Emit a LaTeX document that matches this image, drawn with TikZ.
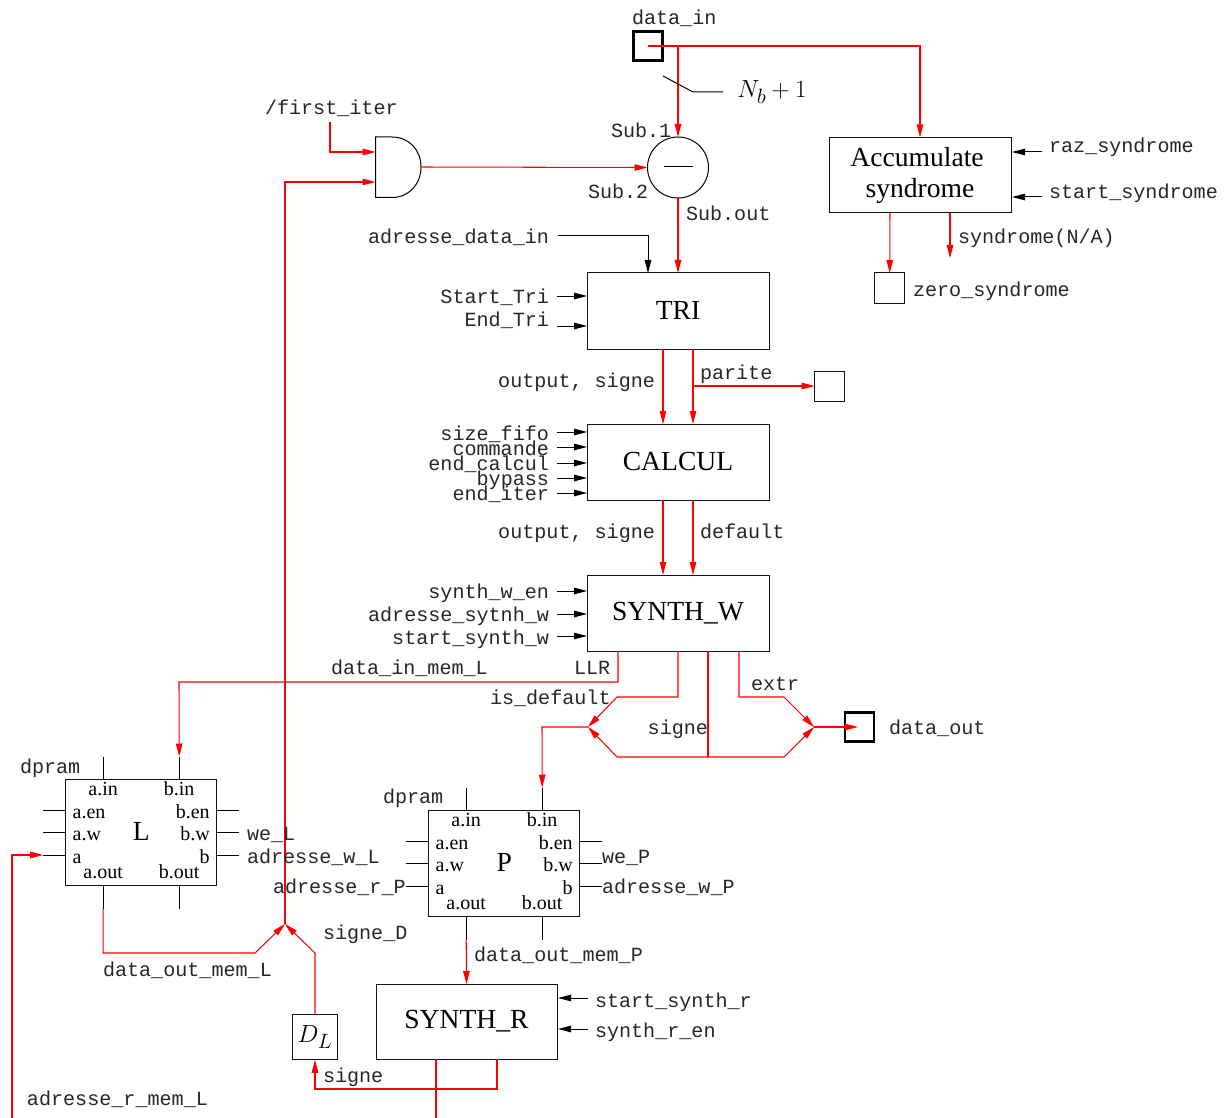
\documentclass[tikz,border=0pt]{standalone}
\usepackage{fontspec}
\setmainfont{Liberation Serif}
\setmonofont{Liberation Mono}
\usetikzlibrary{arrows.meta}
\definecolor{wirered}{RGB}{255,0,0}
\definecolor{boxblack}{RGB}{20,20,20}
\tikzset{
  box/.style={draw=boxblack,line width=1pt,inner sep=0pt,outer sep=0pt,font=\fontsize{27.6}{31}\selectfont},
  ioport/.style={draw=black,line width=2.4pt,minimum size=29pt,inner sep=0pt,outer sep=1pt},
  tinybox/.style={draw=boxblack,line width=1pt,minimum size=30pt,inner sep=0pt,outer sep=0pt},
  lab/.style={inner sep=0pt,outer sep=0pt,text height=13.5pt,text depth=0pt,font=\fontsize{20.1}{24}\ttfamily,text=black!85},
  serif/.style={inner sep=0pt,outer sep=0pt,text height=12pt,text depth=0pt,font=\fontsize{20}{24}\selectfont},
  wire/.style={draw=wirered,line width=1.05pt,line join=miter},
  bwire/.style={draw=black,line width=1pt},
  tip/.style={-{Triangle[length=13pt,width=6.5pt]}},
}
\newcommand{\dpramblock}[4]{%
  \begin{scope}[shift={(#2,#3)}]
    \node[box,minimum width=151pt,minimum height=106pt] (#1) at (0,0) {\raisebox{2pt}{#4}};
    \node[serif] (#1ain) at (-38,-43) {a.in};
    \node[serif] (#1bin) at (38,-43) {b.in};
    \node[serif,anchor=west] (#1aen) at (-68.5,-20.5) {a.en};
    \node[serif,anchor=east] (#1ben) at (68.5,-20.5) {b.en};
    \node[serif,anchor=west] (#1aw) at (-68.5,2) {a.w};
    \node[serif,anchor=east] (#1bw) at (68.5,2) {b.w};
    \node[serif,anchor=west] (#1a) at (-68.5,25) {a};
    \node[serif,anchor=east] (#1b) at (68.5,25) {b};
    \node[serif] (#1aout) at (-38,40) {a.out};
    \node[serif] (#1bout) at (38,40) {b.out};
    \coordinate (#1TA) at ([xshift=-38pt]#1.north);
    \coordinate (#1TB) at ([xshift=38pt]#1.north);
    \coordinate (#1BA) at ([xshift=-38pt]#1.south);
    \coordinate (#1BB) at ([xshift=38pt]#1.south);
    \coordinate (#1L1) at ([yshift=22.5pt]#1.west);
    \coordinate (#1L2) at ([yshift=0pt]#1.west);
    \coordinate (#1L3) at ([yshift=-22.5pt]#1.west);
    \coordinate (#1R1) at ([yshift=22.5pt]#1.east);
    \coordinate (#1R2) at ([yshift=0pt]#1.east);
    \coordinate (#1R3) at ([yshift=-22.5pt]#1.east);
    \coordinate (#1tA) at (-38,-76);
    \coordinate (#1tB) at (38,-76);
    \coordinate (#1bA) at (-38,76);
    \coordinate (#1bB) at (38,76);
    \coordinate (#1l1) at (-98,-22.5);
    \coordinate (#1l2) at (-98,0);
    \coordinate (#1l3) at (-98,22.5);
    \coordinate (#1r1) at (98,-22.5);
    \coordinate (#1r2) at (98,0);
    \coordinate (#1r3) at (98,22.5);
    \draw[bwire] (#1tA)--(#1TA) (#1tB)--(#1TB) (#1bA)--(#1BA) (#1bB)--(#1BB)
      (#1l1)--(#1L1) (#1l2)--(#1L2) (#1l3)--(#1L3)
      (#1r1)--(#1R1) (#1r2)--(#1R2) (#1r3)--(#1R3);
  \end{scope}}
\begin{document}
\begin{tikzpicture}[x=1pt,y=-1pt]
\useasboundingbox (0,0) rectangle (1232,1118);

% ---- boxes
\node[ioport] (din) at (648,46) {};
\node[box,minimum width=182pt,minimum height=75pt,align=center] (acc) at (920,175) {Accumulate\hspace*{6pt}\\syndrome};
\node[box,minimum width=182pt,minimum height=76pt] (tri) at (678,311) {\raisebox{1pt}{TRI}};
\node[box,minimum width=182pt,minimum height=76pt] (calc) at (678,462) {\raisebox{1pt}{CALCUL}};
\node[box,minimum width=182pt,minimum height=76pt] (sw) at (678,613) {\raisebox{-1pt}{SYNTH\_W}};
\node[box,minimum width=181pt,minimum height=75pt] (sr) at (466.5,1021.5) {\raisebox{-1pt}{SYNTH\_R}};
\node[tinybox] (zero) at (889.7,288) {};
\node[tinybox] (par) at (829.7,386) {};
\node[ioport] (dout) at (859.5,727) {};
\node[box,minimum width=45.5pt,minimum height=45.5pt,font=\fontsize{24.88}{28}\selectfont] (dl) at (315,1037) {$D_L$};
\node[draw=black,line width=1pt,circle,minimum size=61pt,inner sep=0pt,outer sep=0pt] (sub) at (678,167.5) {};
\dpramblock{L}{141.2}{832.5}{L}
\dpramblock{P}{504.2}{863.5}{P}

% ---- subtractor sign and AND gate
\coordinate (minusA) at (664,167);
\coordinate (minusB) at (693,167);
\draw[bwire] (minusA)--(minusB);
\coordinate (andTL) at (375.5,137);
\coordinate (andBL) at (375.5,197.5);
\coordinate (andO) at (421,167);
\coordinate (andI) at (375.5,152);
\coordinate (andJ) at (375.5,182);
\draw[draw=black,line width=1pt] (andTL) -- (392,137) .. controls (409,137) and (421,150) .. (andO) .. controls (421,184) and (409,197.5) .. (392,197.5) -- (andBL) -- cycle;

% ---- free ends and junctions
\coordinate (dinC) at (din.center);
\coordinate (tapS) at (678,46);
\coordinate (accT) at (acc.north);
\coordinate (cornerA) at (920,46);
\coordinate (slA) at (663,76);
\coordinate (slB) at (693,92);
\coordinate (slC) at (723,92);
\coordinate (fi) at (330,122);
\coordinate (fiC) at (330,152);
\coordinate (fb) at (285,924);
\coordinate (fbC) at (285,182);
\coordinate (adIn) at (558,236);
\coordinate (adC) at (648,236);
\coordinate (triA) at ([xshift=-30pt]tri.north);
\coordinate (rz) at (1042,152);
\coordinate (rzE) at (1012,152);
\coordinate (st) at (1042,197);
\coordinate (stE) at (1012,197);
\coordinate (accA) at (890,213);
\coordinate (accB) at (950,213);
\coordinate (accBE) at (950,258);

\coordinate (triL1) at (557,296);\coordinate (triL1E) at (587,296);
\coordinate (triL2) at (557,326);\coordinate (triL2E) at (587,326);
\coordinate (triO1) at ([xshift=-15pt]tri.south);
\coordinate (triO2) at ([xshift=15pt]tri.south);
\coordinate (calI1) at ([xshift=-15pt]calc.north);
\coordinate (calI2) at ([xshift=15pt]calc.north);
\coordinate (parJ) at (693,386);
\coordinate (calO1) at ([xshift=-15pt]calc.south);
\coordinate (calO2) at ([xshift=15pt]calc.south);
\coordinate (swI1) at ([xshift=-15pt]sw.north);
\coordinate (swI2) at ([xshift=15pt]sw.north);

% ---- red wires, upper part
\draw[wire,tip] (dinC) -- (cornerA) -- (accT);
\draw[wire,tip] (tapS) -- (sub.north);
\draw[bwire] (slA) -- (slB) -- (slC);
\draw[wire,tip] (fi) -- (fiC) -- (andI);
\draw[wire,tip] (fb) -- (fbC) -- (andJ);
\draw[wire,tip] (andO) -- (sub.west);
\draw[wire,tip] (sub.south) -- (tri.north);
\draw[bwire,tip] (adIn) -- (adC) -- (triA);
\draw[bwire,tip] (rz) -- (rzE);
\draw[bwire,tip] (st) -- (stE);
\draw[wire,tip] (accA) -- (zero.north);
\draw[wire,tip] (accB) -- (accBE);
\draw[bwire,tip] (triL1) -- (triL1E);
\draw[bwire,tip] (triL2) -- (triL2E);
\draw[wire,tip] (triO1) -- (calI1);
\draw[wire,tip] (triO2) -- (calI2);
\draw[wire,tip] (parJ) -- (par.west);
\draw[wire,tip] (calO1) -- (swI1);
\draw[wire,tip] (calO2) -- (swI2);

% ---- calcul and synth_w inputs
\foreach \n/\y in {a/432,b/447,c/463,d/478,e/493}{
  \coordinate (ci\n) at (557,\y);
  \coordinate (ciE\n) at (587,\y);
  \draw[bwire,tip] (ci\n) -- (ciE\n);
}
\foreach \n/\y in {a/591,b/614,c/636}{
  \coordinate (si\n) at (557,\y);
  \coordinate (siE\n) at (587,\y);
  \draw[bwire,tip] (si\n) -- (siE\n);
}

% ---- routing below synth_w
\coordinate (swA) at (618,651);
\coordinate (swAa) at (618,682);
\coordinate (swAb) at (179,682);
\coordinate (swB) at (678,651);
\coordinate (swBa) at (678,697);
\coordinate (swBb) at (617,697);
\coordinate (swC) at (708,651);
\coordinate (swCa) at (708,757);
\coordinate (swD) at (739,651);
\coordinate (swDa) at (739,697);
\coordinate (swDb) at (784,697);
\coordinate (mL) at (588,727);
\coordinate (mR) at (814,727);
\coordinate (lowL) at (617,757);
\coordinate (lowR) at (784,757);
\coordinate (mLa) at (542,727);
\coordinate (dinTip) at (858,727);
\draw[wire,tip] (swA) -- (swAa) -- (swAb) -- (LtB);
\draw[wire,tip] (swB) -- (swBa) -- (swBb) -- (mL);
\draw[wire] (swC) -- (swCa);
\draw[wire,tip] (swCa) -- (lowL) -- (mL);
\draw[wire,tip] (swCa) -- (lowR) -- (mR);
\draw[wire,tip] (swD) -- (swDa) -- (swDb) -- (mR);
\draw[wire,tip] (mR) -- (dinTip);
\draw[wire,tip] (mL) -- (mLa) -- (PtB);

% ---- routing round the memories
\coordinate (lo1) at (103.2,953);
\coordinate (lo2) at (255,953);
\coordinate (dl1) at (315,953);
\coordinate (adL0) at (12,1118);
\coordinate (adL1) at (12,855);
\draw[wire,tip] (LbA) -- (lo1) -- (lo2) -- (fb);
\draw[wire,tip] (dl.north) -- (dl1) -- (fb);
\draw[wire,tip] (adL0) -- (adL1) -- (Ll3);
\draw[wire,tip] (PbA) -- (sr.north);
\coordinate (sr1) at (588,998);\coordinate (sr1E) at (558,998);
\coordinate (sr2) at (588,1029);\coordinate (sr2E) at (558,1029);
\draw[bwire,tip] (sr1) -- (sr1E);
\draw[bwire,tip] (sr2) -- (sr2E);
\coordinate (srA) at ([xshift=30.5pt]sr.south);
\coordinate (srAa) at (497,1089);
\coordinate (srAb) at (315,1089);
\coordinate (srB) at ([xshift=-30.5pt]sr.south);
\coordinate (srBa) at (436,1118);
\draw[wire,tip] (srA) -- (srAa) -- (srAb) -- (dl.south);
\draw[wire] (srB) -- (srBa);

% ---- labels
\node[lab,anchor=west] (t1) at (632,18) {data\_in};
\node[font=\fontsize{24.88}{28}\selectfont,inner sep=0pt] (t2) at (772,92) {$N_b+1$};
\node[lab,anchor=west] (t3) at (265,108) {/first\_iter};
\node[lab,anchor=west] (t4) at (611,131) {Sub.1};
\node[lab,anchor=west] (t5) at (588,192) {Sub.2};
\node[lab,anchor=west] (t6) at (686,214) {Sub.out};
\node[lab,anchor=east] (t7) at (549,237) {adresse\_data\_in};
\node[lab,anchor=west] (t8) at (1049,146) {raz\_syndrome};
\node[lab,anchor=west] (t9) at (1049,192) {start\_syndrome};
\node[lab,anchor=west] (t10) at (958,237) {syndrome(N/A)};
\node[lab,anchor=west] (t11) at (913,290) {zero\_syndrome};
\node[lab,anchor=east] (t12) at (549,297) {Start\_Tri};
\node[lab,anchor=east] (t13) at (549,320) {End\_Tri};
\node[lab,anchor=east] (t14) at (655,381) {output, signe};
\node[lab,anchor=west] (t15) at (700,373) {parite};
\node[lab,anchor=east] (t16) at (549,434) {size\_fifo};
\node[lab,anchor=east] (t17) at (549,449) {commande};
\node[lab,anchor=east] (t18) at (549,464) {end\_calcul};
\node[lab,anchor=east] (t19) at (549,479) {bypass};
\node[lab,anchor=east] (t20) at (549,494) {end\_iter};
\node[lab,anchor=east] (t21) at (655,532) {output, signe};
\node[lab,anchor=west] (t22) at (700,532) {default};
\node[lab,anchor=east] (t23) at (549,592) {synth\_w\_en};
\node[lab,anchor=east] (t24) at (549,615) {adresse\_sytnh\_w};
\node[lab,anchor=east] (t25) at (549,638) {start\_synth\_w};
\node[lab,anchor=west] (t26) at (331,668) {data\_in\_mem\_L};
\node[lab,anchor=west] (t27) at (574,668) {LLR};
\node[lab,anchor=west] (t28) at (490,698) {is\_default};
\node[lab,anchor=west] (t29) at (751,684) {extr};
\node[lab,anchor=east] (t30) at (708,728) {signe};
\node[lab,anchor=west] (t31) at (889,728) {data\_out};
\node[lab,anchor=west] (t32) at (20,767) {dpram};
\node[lab,anchor=west] (t33) at (383,797) {dpram};
\node[lab,anchor=west] (t34) at (247,834) {we\_L};
\node[lab,anchor=west] (t35) at (247,857) {adresse\_w\_L};
\node[lab,anchor=west] (t36) at (273,887) {adresse\_r\_P};
\node[lab,anchor=west] (t37) at (602,857) {we\_P};
\node[lab,anchor=west] (t38) at (602,887) {adresse\_w\_P};
\node[lab,anchor=west] (t39) at (323,933) {signe\_D};
\node[lab,anchor=west] (t40) at (474,955) {data\_out\_mem\_P};
\node[lab,anchor=west] (t41) at (103,970) {data\_out\_mem\_L};
\node[lab,anchor=west] (t42) at (595,1001) {start\_synth\_r};
\node[lab,anchor=west] (t43) at (595,1031) {synth\_r\_en};
\node[lab,anchor=west] (t44) at (323,1076) {signe};
\node[lab,anchor=west] (t45) at (27,1099) {adresse\_r\_mem\_L};
\end{tikzpicture}
\end{document}
